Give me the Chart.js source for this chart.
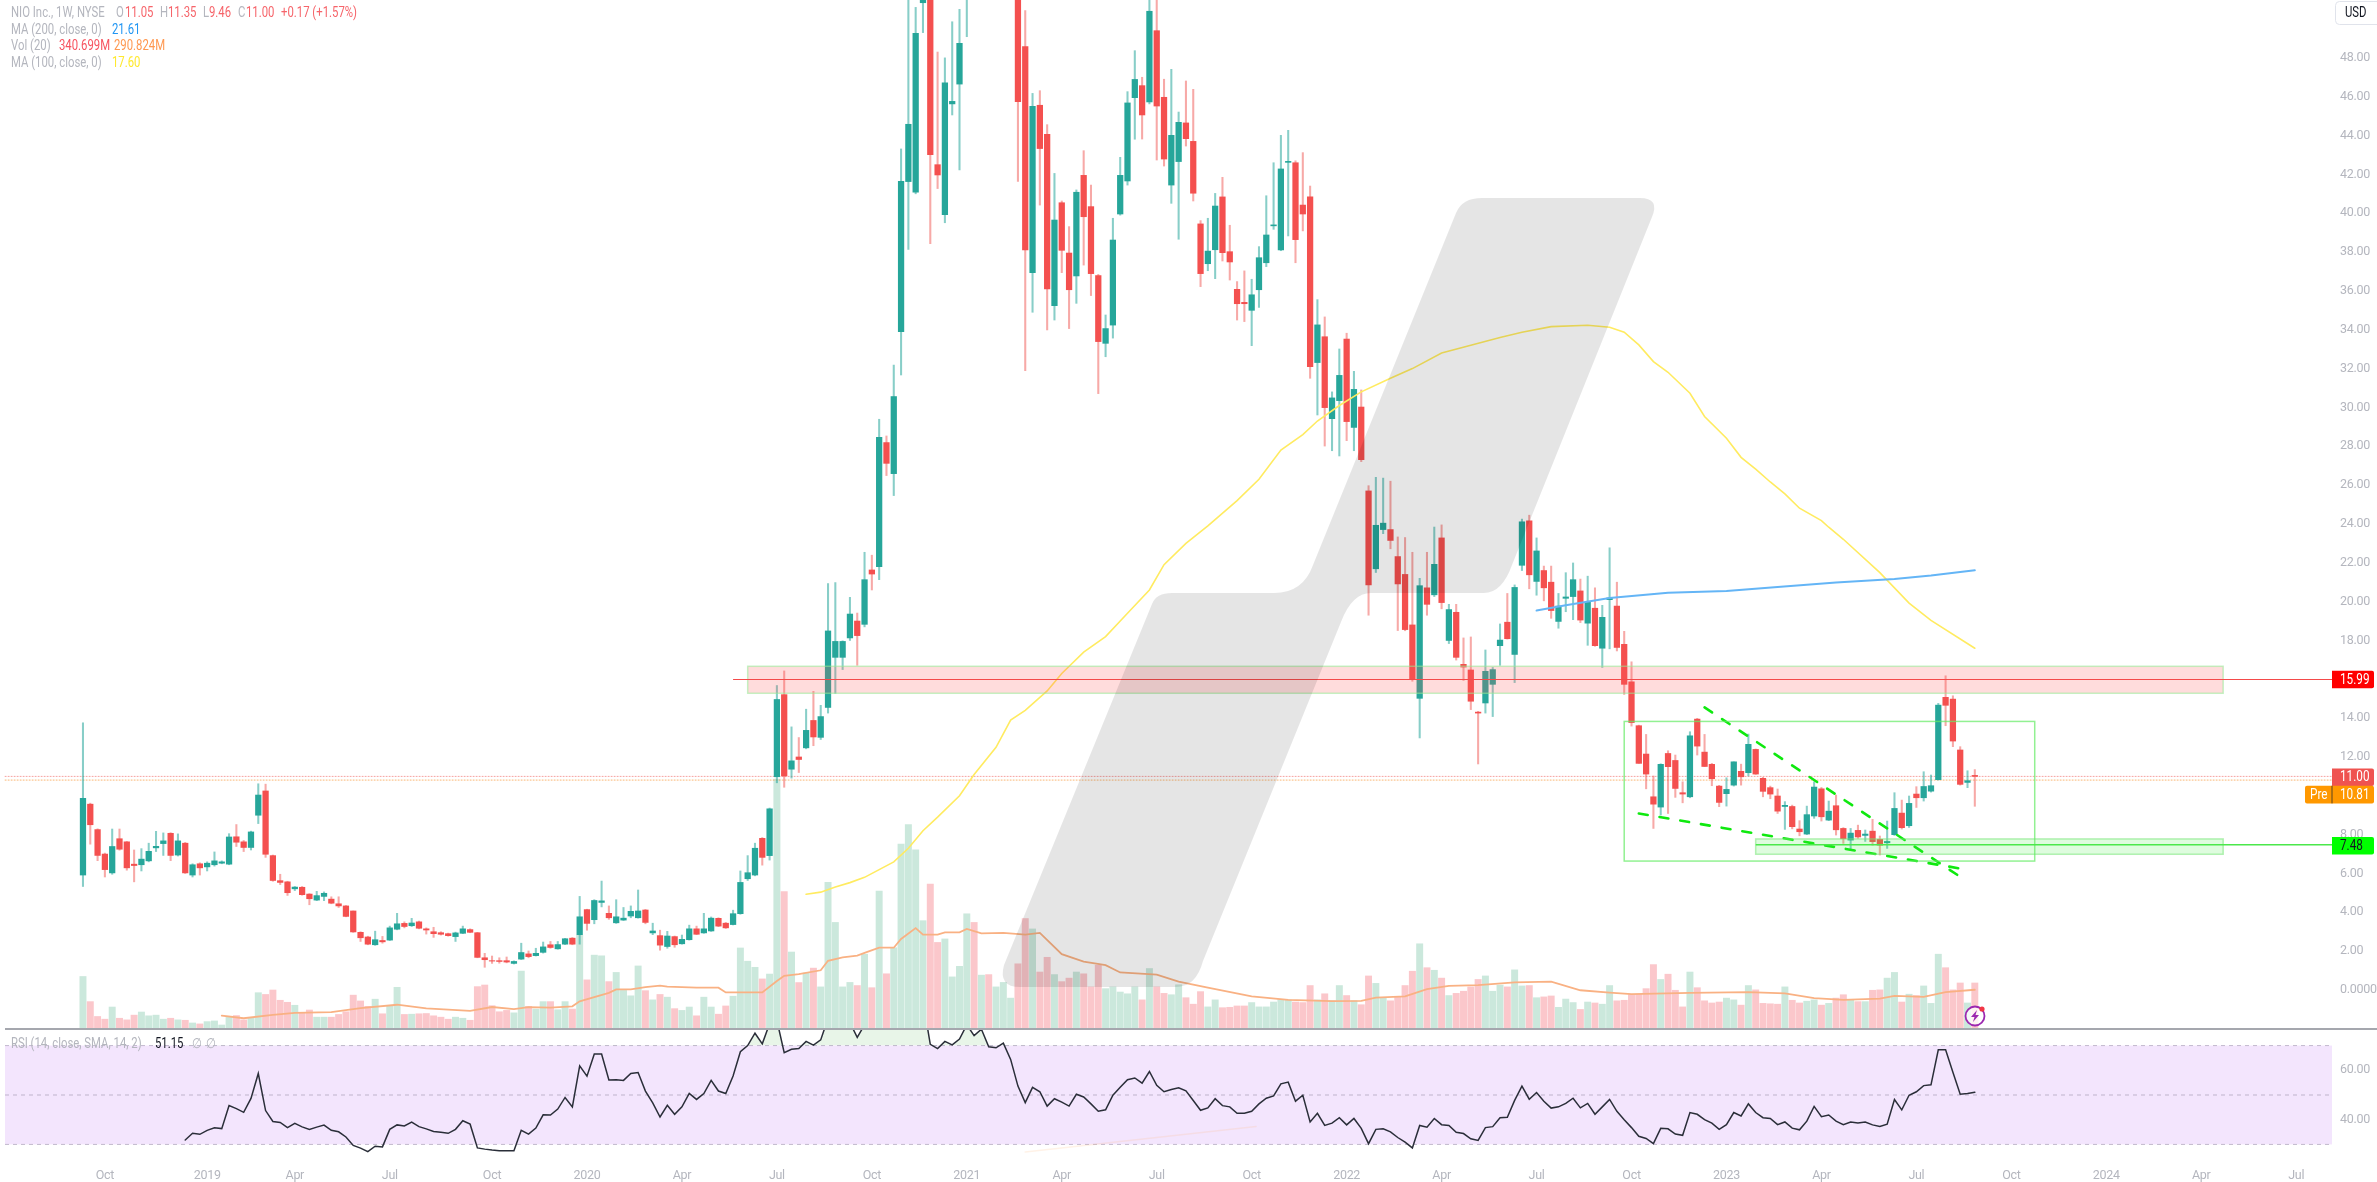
<!DOCTYPE html>
<html>
<head>
<meta charset="utf-8">
<title>NIO Inc., 1W, NYSE</title>
<script src="https://cdn.jsdelivr.net/npm/chart.js@4"></script>
<style>
  html, body { margin: 0; padding: 0; background: #fff; overflow: hidden; }
  canvas { display: block; }
</style>
</head>
<body>
<canvas id="chart" width="2377" height="1182"></canvas>
<script>
// weekly candles, one value per week from Sep 2018
const opens = [
  5.92,9.57,8.26,7.00,6.03,7.79,7.63,6.48,6.45,6.65,
  7.32,7.54,8.07,6.95,7.56,5.92,6.50,6.34,6.45,6.53,
  6.48,7.89,7.63,7.34,9.00,10.25,6.92,5.63,5.57,5.21,
  5.29,4.94,4.63,4.82,4.68,4.44,4.33,4.07,2.97,2.73,
  2.33,2.55,2.57,3.13,3.43,3.31,3.51,3.15,3.00,2.95,
  2.90,2.75,2.92,3.11,2.95,1.66,1.51,1.51,1.51,1.37,
  1.59,1.86,1.77,1.94,2.33,2.12,2.36,2.67,2.85,4.14,
  3.62,4.51,3.95,3.46,3.60,3.81,3.72,4.12,2.94,2.80,
  2.24,2.75,2.38,2.59,3.15,2.94,3.04,3.69,3.44,3.37,
  3.93,5.73,5.92,7.81,6.92,10.98,15.21,11.37,12.00,12.47,
  13.88,13.01,14.55,17.13,17.13,18.13,19.00,18.83,21.63,21.80,
  28.19,26.59,33.90,41.63,41.09,50.84,57.00,42.50,39.93,45.63,
  46.65,51.50,56,54,57,54,55,59,60,48.58,
  36.94,45.56,44.06,35.24,40.54,37.95,36.77,41.95,40.34,36.79,
  33.30,34.24,39.96,41.66,45.95,46.57,45.73,49.40,45.97,41.45,
  42.66,44.65,43.70,39.45,37.40,38.12,40.84,38.02,36.08,35.41,
  35.00,36.06,37.45,39.35,38.11,42.62,42.60,40.42,40.84,32.31,
  33.64,29.42,30.35,33.52,28.97,30.02,25.70,21.69,23.71,23.71,
  22.32,21.40,18.80,15.02,20.71,20.35,23.28,18.00,19.45,16.77,
  16.48,14.31,14.78,15.74,17.73,18.94,17.28,21.87,24.16,21.04,
  21.60,21.00,18.98,20.17,20.26,20.55,18.89,19.66,17.60,20.10,
  19.77,17.80,15.87,13.61,12.15,9.95,9.42,12.18,11.82,10.16,
  9.95,13.95,12.25,11.62,10.50,10.11,10.55,11.26,11.19,12.39,
  10.90,10.42,9.99,9.45,9.45,8.29,8.03,8.96,10.36,8.75,
  9.49,8.32,7.72,8.22,7.96,8.18,7.76,7.58,8.00,9.11,
  8.46,10.09,9.90,10.24,10.83,15.07,14.98,12.36,10.69,11.05
];
const highs = [
  13.76,9.62,8.30,7.05,8.29,8.29,7.65,7.21,7.28,7.56,
  8.17,8.09,8.10,8.04,7.60,6.50,6.55,6.60,7.11,6.65,
  8.05,8.52,7.70,8.18,10.62,10.60,6.95,5.96,5.60,5.33,
  5.33,4.96,5.08,5.05,4.80,4.80,4.35,4.07,3.00,2.77,
  3.03,2.76,3.29,3.95,3.51,3.69,3.55,3.20,3.23,3.00,
  2.93,2.98,3.29,3.15,2.97,1.89,1.75,1.66,1.70,1.50,
  2.41,2.01,2.15,2.47,2.50,2.50,2.66,2.70,4.82,4.16,
  4.65,5.61,4.33,4.65,4.25,4.33,5.15,4.15,3.44,3.08,
  3.02,2.78,2.83,3.34,3.29,3.95,3.76,3.72,3.48,4.11,
  6.13,6.92,7.56,7.85,9.37,15.68,16.43,13.55,13.00,14.46,
  15.38,14.66,20.93,20.98,17.98,20.22,19.41,22.54,22.39,29.39,
  28.53,32.18,43.31,51.50,50.60,56.00,58.00,48.30,48.00,49.86,
  50.50,57,59,58,60,58,60,67,62,50.43,
  46.17,46.31,44.56,42.05,40.63,39.31,41.20,43.22,41.45,36.85,
  34.76,39.74,42.88,46.26,48.37,47.00,53.50,52.00,46.90,47.41,
  45.21,46.81,46.38,39.62,39.74,41.02,41.85,39.38,36.48,37.03,
  36.60,38.28,40.90,42.60,44.01,44.27,42.70,43.12,41.40,35.55,
  34.66,30.80,33.01,33.82,31.86,30.90,25.97,26.40,26.36,26.20,
  23.33,23.30,22.54,21.20,22.54,23.84,23.95,19.86,19.86,18.13,
  18.18,14.35,17.51,16.61,18.85,20.42,20.86,24.25,24.45,23.28,
  21.83,21.83,20.42,21.49,21.99,21.16,21.31,20.71,19.81,22.77,
  21.00,18.47,16.90,13.64,13.16,11.02,11.65,12.32,12.10,10.72,
  13.30,13.99,13.16,11.67,10.54,10.93,11.75,11.63,13.18,12.41,
  10.95,10.50,10.35,9.70,9.52,8.72,9.47,10.72,10.43,9.73,
  10.04,8.36,8.32,8.49,8.24,8.79,7.93,8.70,10.16,9.78,
  9.99,10.47,11.24,11.07,14.76,16.18,15.15,12.53,11.29,11.35
];
const lows = [
  5.33,7.51,6.66,5.82,5.96,7.20,6.17,5.57,6.13,6.60,
  7.13,6.93,6.66,6.90,6.00,5.82,5.92,6.13,6.38,6.50,
  6.45,7.39,7.13,7.21,8.57,6.83,5.60,5.43,4.87,5.12,
  4.88,4.39,4.60,4.60,4.44,4.25,3.77,2.97,2.50,2.33,
  2.30,2.41,2.55,3.10,3.20,3.27,3.15,2.88,2.71,2.83,
  2.77,2.50,2.90,2.95,1.66,1.17,1.37,1.38,1.40,1.34,
  1.57,1.66,1.75,1.90,2.15,2.10,2.34,2.33,2.36,3.08,
  3.41,4.28,3.64,3.43,3.58,3.72,3.70,3.41,2.85,2.05,
  2.15,2.20,2.36,2.57,2.85,2.92,3.02,3.26,3.17,3.35,
  3.90,5.64,5.88,6.43,6.69,10.67,10.44,10.91,11.20,12.42,
  12.58,12.90,14.26,15.27,16.50,18.00,16.72,18.70,20.60,21.13,
  26.49,25.46,31.67,38.14,41.00,49.30,38.43,41.27,39.51,45.06,
  42.23,49.09,52,52,53,52,53,55,41.64,31.89,
  34.90,40.42,33.99,34.50,36.94,34.06,35.36,37.33,35.76,30.71,
  32.61,33.57,39.90,41.45,43.81,43.82,45.63,42.74,42.43,40.51,
  38.66,43.46,40.63,36.22,37.04,36.63,37.54,36.56,34.50,34.42,
  33.18,35.15,37.25,39.17,38.07,38.83,37.45,39.09,31.50,29.61,
  28.01,27.77,27.50,28.29,27.77,27.21,19.30,21.50,23.50,22.72,
  18.51,18.50,15.90,12.98,19.30,20.26,19.63,17.84,16.99,15.94,
  14.44,11.64,14.26,14.08,16.72,18.07,15.83,21.60,20.66,20.33,
  20.04,19.14,18.63,19.48,19.07,18.92,17.75,17.70,16.61,17.57,
  17.46,15.22,13.59,11.67,10.36,8.32,9.01,9.09,9.92,9.64,
  9.90,12.10,11.50,10.52,9.44,9.47,10.50,10.55,11.02,11.10,
  9.95,9.85,9.09,8.27,8.30,7.94,8.00,8.84,8.70,8.72,
  7.98,7.55,7.21,7.81,7.65,7.46,6.95,7.29,7.96,8.29,
  8.37,9.40,9.73,10.19,10.81,13.61,12.53,10.55,10.42,9.46
];
const closes = [
  9.87,8.51,6.93,6.20,7.39,7.25,6.29,6.41,6.74,7.14,
  7.40,7.68,6.93,7.68,6.03,6.45,6.29,6.53,6.65,6.60,
  7.88,7.61,7.34,8.14,10.04,6.99,5.64,5.54,5.01,5.30,
  4.91,4.70,4.86,4.98,4.47,4.33,3.79,2.99,2.69,2.36,
  2.59,2.48,3.20,3.41,3.27,3.45,3.18,3.09,2.90,2.87,
  2.80,2.94,3.15,2.97,1.68,1.56,1.49,1.47,1.44,1.47,
  1.93,1.72,1.89,2.22,2.19,2.34,2.64,2.36,3.77,3.43,
  4.61,4.59,3.72,3.77,3.70,4.05,4.07,3.48,3.04,2.31,
  2.78,2.33,2.61,3.15,2.87,3.15,3.70,3.29,3.20,3.93,
  5.54,6.04,7.30,6.83,9.33,14.96,11.02,11.80,11.87,13.37,
  13.03,14.08,18.49,17.95,17.95,19.36,18.25,21.13,21.42,28.46,
  27.12,30.56,41.64,44.58,49.26,53.00,43.02,41.97,46.72,45.76,
  48.75,54,54,57,54,55,59,62,45.74,38.11,
  45.50,43.33,36.10,39.65,38.09,36.06,41.08,39.82,36.89,33.39,
  34.06,38.62,41.95,45.68,46.89,45.06,50.40,45.52,42.79,44.01,
  44.68,43.84,41.03,36.89,38.05,40.37,37.97,37.49,35.34,35.34,
  35.80,37.71,38.88,39.40,42.28,42.67,38.64,39.96,32.10,34.25,
  29.99,30.49,31.65,29.27,30.93,27.31,20.86,23.93,24.04,23.15,
  20.91,18.56,16.01,20.82,19.86,21.92,19.95,19.59,17.13,16.63,
  14.87,14.26,16.41,16.50,18.02,18.09,20.73,24.11,21.38,22.61,
  20.71,19.54,19.77,20.24,21.13,19.05,19.97,17.73,19.19,20.19,
  17.64,15.74,13.77,11.67,11.12,9.57,11.62,11.50,10.38,10.09,
  13.09,12.56,11.51,10.88,9.66,10.33,11.75,10.98,12.65,11.12,
  10.23,10.09,9.21,9.51,8.41,8.15,9.03,10.45,8.92,9.21,
  8.25,7.79,8.08,7.88,8.03,7.64,7.46,7.65,9.35,8.36,
  9.61,9.90,10.48,10.52,14.67,14.66,12.82,10.59,10.78,11.00
];
// weekly volume in millions
const volumes = [
  389,203,93,73,163,80,68,103,126,98,
  103,73,80,68,65,45,38,55,60,30,
  88,100,68,80,269,256,289,213,198,176,
  118,141,88,88,88,108,128,251,208,168,
  221,113,168,309,108,110,113,115,98,88,
  73,88,80,65,314,326,173,128,138,120,
  429,168,148,203,203,143,203,148,695,364,
  547,542,351,419,286,246,467,284,216,256,
  236,151,138,163,98,236,163,110,171,243,
  600,502,457,371,407,1850,1017,570,344,415,
  451,312,1085,789,312,345,322,554,306,1021,
  409,602,1369,1513,1327,802,1072,641,667,386,
  464,853,789,399,403,312,345,229,483,818,
  741,422,531,403,351,377,422,409,312,473,
  299,312,274,261,312,216,448,312,264,254,
  328,232,184,277,164,216,158,161,171,171,
  196,164,164,200,219,216,200,196,322,216,
  261,209,322,248,209,180,393,338,232,209,
  238,322,428,631,454,435,377,248,264,280,
  312,367,393,280,325,312,438,319,322,232,
  238,245,161,222,196,145,200,193,184,322,
  209,213,254,258,299,477,367,406,287,164,
  422,306,209,193,200,229,216,177,322,290,
  190,187,184,312,213,193,206,216,177,190,
  229,254,216,203,203,287,290,377,419,200,
  258,248,319,190,554,454,290,341,193,341
];
// RSI starts at week 14
const rsiStart = 14;
const rsiValues = [
  31.8,34.5,34.1,35.7,36.7,36.4,45.7,44.5,43,48.6,
  58.7,43.7,39.3,38.9,36.8,38.5,37.1,36.1,37,37.8,
  35.7,35.1,33,29.6,28.5,27.1,29.3,29,36.1,37.9,
  37.5,39,37.2,36.3,35.2,34.9,34.5,36.1,39.6,38.2,
  28.6,28.1,27.7,27.4,27.4,27.4,35.7,34.2,36.6,42,
  41.9,44.3,49,45.2,61.8,57.6,66.6,66.6,56.1,56.2,
  55.9,58.7,59.1,51.6,46.8,41.1,45.8,42.2,45.2,50.6,
  48.2,50.6,55.9,51.6,50.6,57.7,67.5,70,75,70.7,
  78.9,80.2,67.1,68.5,68.8,
  71.7,70.2,72.3,81,82.8,81.9,79.3,73.3,78.4,81,
  84,86,83,87,90,92,88,70.5,68.8,71.7,
  70.3,72.6,78.4,74,76.6,69.5,69.1,71,64.4,53.6,
  46.9,53.1,51.3,45.5,48.5,47.1,45.5,50.3,49.2,46.4,
  43.4,44,49.9,53.1,56.2,56.9,54.8,59.5,53.9,51.3,
  52.2,52.9,51.7,47.8,43.8,44.8,48.5,45.7,45.2,42.6,
  42.6,43.4,46.4,48.7,49.6,54.5,55.2,47.5,49.9,39.1,
  42.6,37.7,38.6,40.8,37.9,40.5,36.5,30.3,36.1,36.3,
  35.1,32.8,30.9,28.6,37.7,37,40.5,38,37.7,34.9,
  34.4,32.3,31.6,36.8,37.2,40.8,41,47.8,53.6,48.3,
  51,47.5,44.7,45.2,46.6,48.7,44.8,46.6,42.2,45.2,
  48.2,43.4,40,36.8,33.3,32.4,30.3,36.5,36.3,34.2,
  33.7,42.9,42.2,40,38.6,36.1,38,42.9,41.5,46.4,
  42.9,40.8,40.5,38,39.1,36.6,35.9,39.4,45.4,41.2,
  41.9,39.4,38,39.1,38.7,39.1,37.9,37.3,38.2,48.2,
  44,49.9,51.3,53.8,54.1,68.3,68.3,59.2,50.3,50.6,
  51.15
];
const ma100Weeks = [99,101,103,105,107,109,111,113,115,117,120,122,125,127,129,132,134,137,140,143,146,148,151,154,158,161,164,167,169,172,175,179,182,186,190,194,197,201,206,209,211,213,215,217,220,222,225,227,229,231,233,235,238,239,241,246,250,253,259];
const ma100Values = [4.93,5.04,5.31,5.53,5.80,6.2,6.6,7.3,8.2,8.9,10.0,11.1,12.5,13.9,14.4,15.4,16.3,17.4,18.2,19.4,20.6,21.9,23.0,23.9,25.2,26.3,27.8,28.6,29.3,30.1,30.8,31.5,32.0,32.8,33.2,33.6,33.87,34.16,34.23,34.13,33.87,33.22,32.36,31.81,30.73,29.53,28.41,27.43,26.82,26.16,25.55,24.81,24.17,23.83,23.21,21.49,19.92,19.03,17.60];
const ma200Weeks = [199,203,209,217,225,232,240,248,253,259];
const ma200Values = [19.54,19.81,20.19,20.46,20.55,20.75,20.98,21.16,21.34,21.61];
const volMaWeeks = [19,22,26,29,34,38,43,47,53,56,59,61,64,67,68,72,73,75,77,79,80,84,87,88,93,95,96,98,101,102,104,106,107,109,111,112,114,115,117,118,120,121,123,126,129,131,134,137,140,142,147,150,154,160,165,171,175,177,181,184,187,191,196,201,205,209,212,220,228,233,237,241,246,248,252,255,259];
const volMaValues = [100,80,105,120,125,155,180,153,135,163,148,163,158,168,205,268,294,294,311,321,314,306,306,271,271,356,394,407,435,505,531,544,564,602,602,667,747,699,699,715,715,741,708,712,699,712,554,499,473,419,403,351,306,242,216,206,209,232,242,296,319,325,345,351,287,270,258,267,274,264,229,216,225,245,238,274,291];

const priceTicks = [0,2,4,6,8,10,12,14,16,18,20,22,24,26,28,30,32,34,36,38,40,42,44,46,48];
const rsiTicks = [60,40];
const rsiLevels = [70,50,30];
const timeTickWeeks = [3,17,29,42,56,69,82,95,108,121,134,147,160,173,186,199,212,225,238,251,264,277,290,303];
const timeTickLabels = ["Oct","2019","Apr","Jul","Oct","2020","Apr","Jul","Oct","2021","Apr","Jul","Oct","2022","Apr","Jul","Oct","2023","Apr","Jul","Oct","2024","Apr","Jul"];

// drawings on the chart: [week from, week to, price top, price bottom]
const resistanceZone = [91,293,16.67,15.28];
const supportZone = [229,293,7.78,6.99];
const wedgeBox = [211,267.2,13.83,6.64];
const trendUpper = [[222,14.55],[257,5.83]];
const trendLower = [[213,9.09],[257.4,6.23]];
const rsiDrift = [[129,26.9],[160.6,37.3]];

const GREEN = "#26a69a";
const FONT = '"Roboto", sans-serif';
const axisRight = 307.9, axisLeft = -11.36;

const isUp = opens.map((o, i) => closes[i] >= o);
const weeks = opens.map((o, i) => i);

function pts(xs, ys) { return xs.map((x, i) => ({ x: x, y: ys[i] })); }

const datasets = [
  {
    type: "bar", label: "Vol", yAxisID: "yVol", order: 20, grouped: false, barThickness: 6.3,
    data: weeks.map(i => ({ x: i, y: [0, volumes[i]] })),
    backgroundColor: isUp.map(u => (u ? "#cbe8dc" : "#fbc7cb")),
  },
  {
    type: "line", label: "Vol MA", yAxisID: "yVol", order: 15, borderColor: "#f9b183", borderWidth: 1.8,
    pointRadius: 0, data: pts(volMaWeeks, volMaValues),
  },
  {
    type: "bar", label: "wick", yAxisID: "y", order: 12, grouped: false, barThickness: 1.4,
    data: weeks.map(i => ({ x: i, y: [lows[i], highs[i]] })),
    backgroundColor: isUp.map(u => (u ? "rgba(38,166,154,.55)" : "rgba(239,83,80,.5)")),
  },
  {
    type: "bar", label: "body", yAxisID: "y", order: 11, grouped: false, barThickness: 5.6,
    data: weeks.map(i => ({ x: i, y: [opens[i], closes[i]] })),
    backgroundColor: isUp.map(u => (u ? GREEN : "#f4504f")),
  },
  {
    type: "line", label: "MA100", yAxisID: "y", order: 9, borderColor: "#ffeb60", borderWidth: 1.6,
    pointRadius: 0, data: pts(ma100Weeks, ma100Values),
  },
  {
    type: "line", label: "MA200", yAxisID: "y", order: 8, borderColor: "#64b5f6", borderWidth: 2,
    pointRadius: 0, data: pts(ma200Weeks, ma200Values),
  },
  {
    type: "line", label: "close", yAxisID: "y", order: 14, borderColor: "rgba(239,83,80,.55)", borderWidth: 1, borderDash: [1, 2],
    pointRadius: 0, data: [{ x: axisLeft + 0.7, y: 11.0 }, { x: axisRight, y: 11.0 }],
  },
  {
    type: "line", label: "pre", yAxisID: "y", order: 14, borderColor: "rgba(245,124,0,.55)", borderWidth: 1, borderDash: [1, 2],
    pointRadius: 0, data: [{ x: axisLeft + 0.7, y: 10.81 }, { x: axisRight, y: 10.81 }],
  },
  {
    type: "line", label: "trend upper", yAxisID: "y", order: 3, borderColor: "#0fe90f", borderWidth: 2.6, borderDash: [9, 12],
    pointRadius: 0, data: trendUpper.map(p => ({ x: p[0], y: p[1] })),
  },
  {
    type: "line", label: "trend lower", yAxisID: "y", order: 3, borderColor: "#0fe90f", borderWidth: 2.6, borderDash: [9, 12],
    pointRadius: 0, data: trendLower.map(p => ({ x: p[0], y: p[1] })),
  },
  {
    type: "line", label: "rsi drift", yAxisID: "yRsi", order: 6, borderColor: "rgba(255,183,120,.18)", borderWidth: 1.5,
    pointRadius: 0, data: rsiDrift.map(p => ({ x: p[0], y: p[1] })),
  },
  {
    type: "line", label: "RSI", yAxisID: "yRsi", order: 5, borderColor: "#2a2e39", borderWidth: 1.5,
    pointRadius: 0, data: rsiValues.map((v, i) => ({ x: i + rsiStart, y: v })),
    fill: { target: { value: 70 }, above: "rgba(76,175,80,.13)", below: "rgba(0,0,0,0)" },
  },
];

// the reference type is narrower than anything installed, so squeeze it
function text(ctx, str, x, y, color, size) {
  ctx.save();
  ctx.letterSpacing = "0px";
  ctx.translate(x, y);
  ctx.scale(0.81, 1);
  ctx.fillStyle = color;
  ctx.font = (size || 14) + "px " + FONT;
  ctx.textAlign = "left";
  ctx.textBaseline = "middle";
  ctx.fillText(str, 0, 0);
  ctx.restore();
}

function priceBadge(ctx, y, bg, fg, label) {
  ctx.fillStyle = bg;
  ctx.beginPath();
  ctx.roundRect(2332, y - 8.7, 42, 17.4, [0, 2, 2, 0]);
  ctx.fill();
  text(ctx, label, 2340, y + 0.5, fg, 14.5);
}

function drawZone(ctx, sc, z, fill, stroke) {
  const x0 = sc.x.getPixelForValue(z[0]), x1 = sc.x.getPixelForValue(z[1]);
  const y0 = sc.y.getPixelForValue(z[2]), y1 = sc.y.getPixelForValue(z[3]);
  if (fill) {
    ctx.fillStyle = fill;
    ctx.fillRect(x0, y0, x1 - x0, y1 - y0);
  }
  ctx.strokeStyle = stroke;
  ctx.lineWidth = 1.5;
  ctx.strokeRect(x0, y0, x1 - x0, y1 - y0);
}

function drawWatermark(ctx) {
  ctx.fillStyle = "rgba(0,0,0,.1)";
  ctx.beginPath();
  ctx.moveTo(1456, 213);
  ctx.quadraticCurveTo(1462, 198, 1482, 198);
  ctx.lineTo(1640, 198);
  ctx.quadraticCurveTo(1660, 198, 1652, 217);
  ctx.lineTo(1512, 565);
  ctx.quadraticCurveTo(1502, 593, 1484, 593);
  ctx.lineTo(1371, 593);
  ctx.quadraticCurveTo(1352, 593, 1341, 622);
  ctx.lineTo(1203, 961);
  ctx.quadraticCurveTo(1196, 987, 1176, 987);
  ctx.lineTo(1020, 987);
  ctx.quadraticCurveTo(998, 987, 1004, 965);
  ctx.lineTo(1152, 604);
  ctx.quadraticCurveTo(1156, 593, 1172, 593);
  ctx.lineTo(1274, 593);
  ctx.quadraticCurveTo(1303, 593, 1313, 565);
  ctx.closePath();
  ctx.fill();
}

const overlay = {
  id: "overlay",
  beforeDraw(chart) {
    chart.ctx.letterSpacing = "-0.3px";
  },
  beforeDatasetsDraw(chart) {
    const ctx = chart.ctx, sc = chart.scales;
    const y70 = sc.yRsi.getPixelForValue(70), y30 = sc.yRsi.getPixelForValue(30);
    ctx.save();
    ctx.fillStyle = "#f3e5fd";
    ctx.fillRect(5, y70, 2327, y30 - y70);
    ctx.strokeStyle = "rgba(150,140,165,.55)";
    ctx.setLineDash([4, 4]);
    ctx.lineWidth = 1;
    rsiLevels.forEach(l => {
      const y = sc.yRsi.getPixelForValue(l);
      ctx.beginPath();
      ctx.moveTo(5, y);
      ctx.lineTo(2332, y);
      ctx.stroke();
    });
    ctx.restore();
  },
  afterDatasetsDraw(chart) {
    const ctx = chart.ctx, sc = chart.scales;
    ctx.save();
    // zones sit over the candles
    drawZone(ctx, sc, resistanceZone, "rgba(255,82,82,.2)", "rgba(150,235,150,.55)");
    drawZone(ctx, sc, supportZone, "rgba(60,240,60,.17)", "rgba(120,230,120,.55)");
    drawZone(ctx, sc, wedgeBox, null, "rgba(100,235,100,.7)");

    const yRed = sc.y.getPixelForValue(15.99), yGreen = sc.y.getPixelForValue(7.48);
    ctx.lineWidth = 1.2;
    ctx.strokeStyle = "#f44a4a";
    ctx.beginPath();
    ctx.moveTo(sc.x.getPixelForValue(89), yRed);
    ctx.lineTo(2332, yRed);
    ctx.stroke();
    ctx.strokeStyle = "#4be84b";
    ctx.lineWidth = 1.6;
    ctx.beginPath();
    ctx.moveTo(sc.x.getPixelForValue(supportZone[0]), yGreen);
    ctx.lineTo(2332, yGreen);
    ctx.stroke();

    drawWatermark(ctx);

    // separator between price pane and RSI
    ctx.fillStyle = "#a5a7ae";
    ctx.fillRect(5, 1028, 2372, 2);

    // last value badges on the price axis
    priceBadge(ctx, yRed, "#ff0000", "#fff", "15.99");
    priceBadge(ctx, sc.y.getPixelForValue(11.0) + 0.8, "#ef5350", "#fff", "11.00");
    priceBadge(ctx, yGreen + 1, "#00ff00", "#131722", "7.48");
    // the pre-market badge is pushed down under the close badge
    const yPre = sc.y.getPixelForValue(10.81) + 14.5;
    ctx.fillStyle = "#ff9800";
    ctx.beginPath();
    ctx.roundRect(2305, yPre - 8.8, 69, 17.6, 2);
    ctx.fill();
    ctx.fillStyle = "#5b4520";
    ctx.fillRect(2331.5, yPre - 8.8, 1, 17.6);
    text(ctx, "Pre", 2310, yPre + 0.5, "#fff", 14.5);
    text(ctx, "10.81", 2340, yPre + 0.5, "#fff", 14.5);

    // currency box
    ctx.strokeStyle = "#e0e3eb";
    ctx.lineWidth = 1;
    ctx.beginPath();
    ctx.roundRect(2335.5, 1.5, 50, 23, 4);
    ctx.stroke();
    text(ctx, "USD", 2345, 13.5, "#131722", 14);

    // legend
    const G = "#b4b6be", R = "#f6646a";
    text(ctx, "NIO Inc., 1W, NYSE", 11, 13, G);
    text(ctx, "O", 116, 13, G); text(ctx, "11.05", 125, 13, R);
    text(ctx, "H", 160, 13, G); text(ctx, "11.35", 168, 13, R);
    text(ctx, "L", 203, 13, G); text(ctx, "9.46", 209, 13, R);
    text(ctx, "C", 238, 13, G); text(ctx, "11.00", 246, 13, R);
    text(ctx, "+0.17 (+1.57%)", 281, 13, R);
    text(ctx, "MA (200, close, 0)", 11, 30, G); text(ctx, "21.61", 112, 30, "#2196f3");
    text(ctx, "Vol (20)", 11, 46, G); text(ctx, "340.699M", 59, 46, "#f7525f"); text(ctx, "290.824M", 114, 46, "#ff9850");
    text(ctx, "MA (100, close, 0)", 11, 63, G); text(ctx, "17.60", 112, 63, "#ffe92e");
    text(ctx, "RSI (14, close, SMA, 14, 2)", 11, 1044, G);
    text(ctx, "51.15", 155, 1044, "#131722");
    text(ctx, "\u2205", 192, 1044, G); text(ctx, "\u2205", 206, 1044, G);

    // earnings marker
    ctx.beginPath();
    ctx.arc(1975, 1016, 9.5, 0, Math.PI * 2);
    ctx.fillStyle = "rgba(255,255,255,.75)";
    ctx.fill();
    ctx.strokeStyle = "#9c27b0";
    ctx.lineWidth = 1.8;
    ctx.stroke();
    ctx.fillStyle = "#9c27b0";
    ctx.beginPath();
    ctx.moveTo(1977, 1010); ctx.lineTo(1971, 1017); ctx.lineTo(1974.5, 1017);
    ctx.lineTo(1973, 1022); ctx.lineTo(1979, 1015); ctx.lineTo(1975.5, 1015);
    ctx.closePath();
    ctx.fill();
    ctx.fillStyle = "#f23645";
    ctx.beginPath();
    ctx.arc(1982, 1009, 2.6, 0, Math.PI * 2);
    ctx.fill();
    ctx.restore();
  },
};

const tickStyle = { color: "#b4b6be", font: { family: FONT, size: 12.5 }, padding: 8, autoSkip: false, maxRotation: 0 };
const noGrid = { display: false, drawTicks: false };

function fitRight(s) {
  s.width = 45;
  s.paddingTop = 0;
  s.paddingBottom = 0;
}

new Chart(document.getElementById("chart"), {
  type: "bar",
  data: { datasets: datasets },
  plugins: [overlay],
  options: {
    responsive: false,
    animation: false,
    events: [],
    layout: { padding: 0 },
    elements: { line: { tension: 0, borderCapStyle: "round" } },
    plugins: { legend: { display: false }, tooltip: { enabled: false } },
    scales: {
      x: {
        type: "linear", offset: false, min: axisLeft, max: axisRight,
        grid: noGrid, border: { display: false },
        afterBuildTicks(s) { s.ticks = timeTickWeeks.map(v => ({ value: v })); },
        afterFit(s) { s.height = 22; s.paddingLeft = 0; s.paddingRight = 0; },
        ticks: Object.assign({}, tickStyle, {
          callback: v => timeTickLabels[timeTickWeeks.indexOf(v)],
        }),
      },
      y: {
        type: "linear", position: "right", stack: "panes", stackWeight: 1029, weight: 1,
        min: -2.008, max: 50.98,
        grid: noGrid, border: { display: false },
        afterBuildTicks(s) { s.ticks = priceTicks.map(v => ({ value: v })); },
        afterFit: fitRight,
        ticks: Object.assign({}, tickStyle, {
          callback: v => (v === 0 ? "0.0000" : v.toFixed(2)),
        }),
      },
      yRsi: {
        type: "linear", position: "right", stack: "panes", stackWeight: 131, weight: 2,
        min: 23.7, max: 76.7,
        grid: noGrid, border: { display: false },
        afterBuildTicks(s) { s.ticks = rsiTicks.map(v => ({ value: v })); },
        afterFit: fitRight,
        ticks: Object.assign({}, tickStyle, { callback: v => v.toFixed(2) }),
      },
      // volume shares the price pane, zero sits on the pane floor
      yVol: { type: "linear", display: false, position: "right", min: -969, max: 7615 },
    },
  },
});
</script>
</body>
</html>
